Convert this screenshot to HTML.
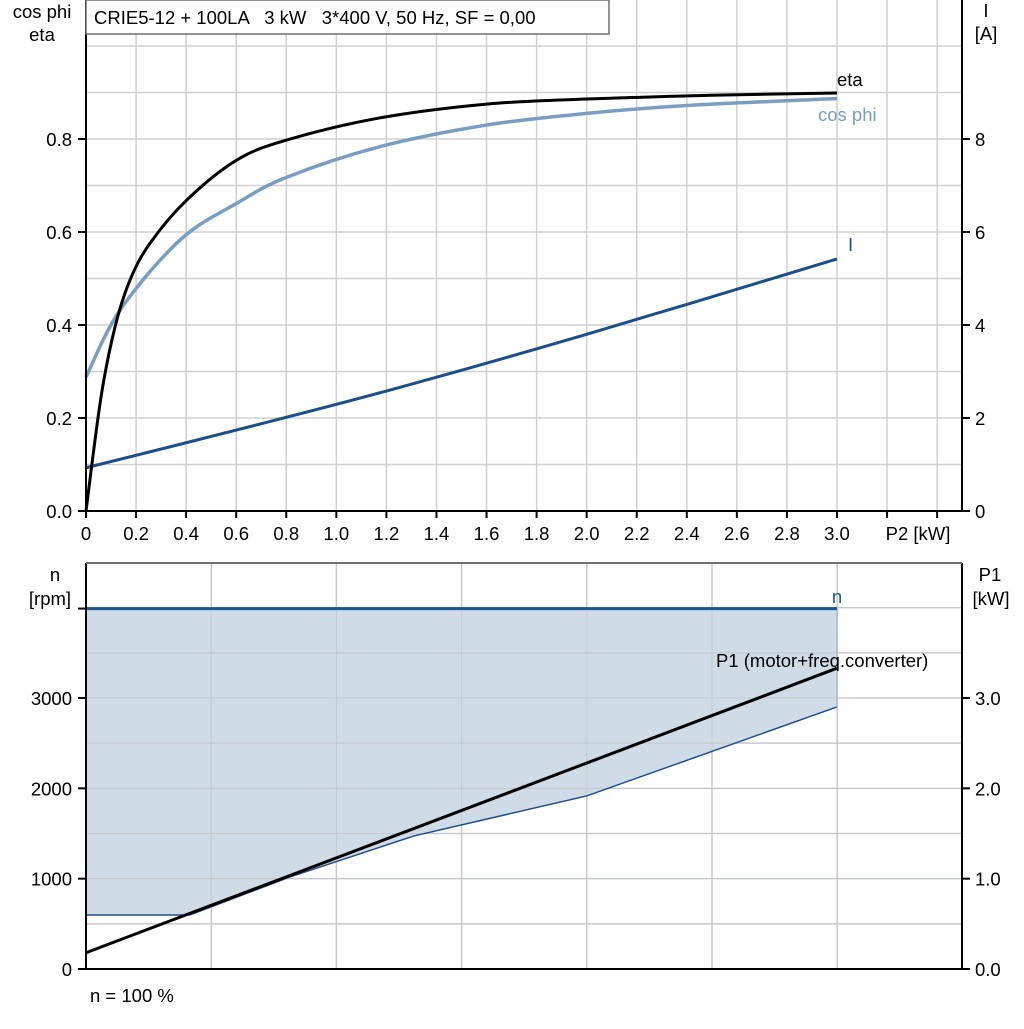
<!DOCTYPE html>
<html><head><meta charset="utf-8"><style>
body{margin:0;background:#fff}
</style></head><body>
<svg id="c" width="1024" height="1024" xmlns="http://www.w3.org/2000/svg"></svg>
<script>
const p2Ticks=[0,0.2,0.4,0.6,0.8,1.0,1.2,1.4,1.6,1.8,2.0,2.2,2.4,2.6,2.8,3.0];
const leftTicks=[0,0.2,0.4,0.6,0.8];
const rightTicks=[0,2,4,6,8];
const etaX=[0,0.06,0.116,0.176,0.256,0.403,0.603,0.803,1.17,1.6,2.0,2.5,3.0];
const etaY=[0,0.245,0.396,0.497,0.576,0.669,0.755,0.798,0.845,0.875,0.886,0.894,0.899];
const cosX=[0,0.136,0.376,0.603,0.803,1.17,1.6,2.0,2.4,3.0];
const cosY=[0.288,0.432,0.583,0.662,0.718,0.783,0.83,0.855,0.872,0.887];
const iX=[0,0.6,1.2,2.0,3.0];
const iY=[0.93,1.74,2.58,3.8,5.42];
const nTicks=[0,1000,2000,3000];
const p1Ticks=[0,1.0,2.0,3.0];
const nSpeed=3990;
const minX=[0,0.415,0.815,1.31,2.0,3.0];
const minN=[598,598,1019,1473,1916,2901];
const p1X=[0,3.0];
const p1Y=[0.18,3.33];

const svg=document.getElementById('c');const NS='http://www.w3.org/2000/svg';
function el(t,a,txt){const e=document.createElementNS(NS,t);for(const k in a)e.setAttribute(k,a[k]);if(txt!==undefined)e.textContent=txt;svg.appendChild(e);return e;}
const X=v=>86+v*250.33;
const Y1=v=>511-v*465;
const YA=v=>511-v*46.5;
const Yn=v=>969-v*0.09033;
const Yp=v=>969-v*90.33;

for(let i=1;i<=17;i++){let e=el('line',{x1:X(i*0.2),x2:X(i*0.2),y1:0,y2:511,stroke:'#d0d0d0','stroke-width':1.5});
}
for(let i=1;i<=10;i++){let e=el('line',{x1:86,x2:962,y1:Y1(i*0.1),y2:Y1(i*0.1),stroke:'#d0d0d0','stroke-width':1.5});
}
for(let i=1;i<=6;i++){let e=el('line',{x1:86+i*125.2,x2:86+i*125.2,y1:563,y2:969,stroke:'#d0d0d0','stroke-width':1.5});
}
for(let i=1;i<=8;i++){let e=el('line',{x1:86,x2:962,y1:Yn(i*500),y2:Yn(i*500),stroke:'#d0d0d0','stroke-width':1.5});
}

function smooth(xs,ys,fx,fy){const p=xs.map((x,i)=>[fx(x),fy(ys[i])]);let d='M'+p[0][0]+','+p[0][1];
for(let i=0;i<p.length-1;i++){const p0=p[i-1]||p[i],p1=p[i],p2=p[i+1],p3=p[i+2]||p2;
const c1=[p1[0]+(p2[0]-p0[0])/6,p1[1]+(p2[1]-p0[1])/6],c2=[p2[0]-(p3[0]-p1[0])/6,p2[1]-(p3[1]-p1[1])/6];
d+=' C'+c1+' '+c2+' '+p2;}return d;}
function line(xs,ys,fx,fy,color,w,name,sm){let e;
if(sm){e=el('path',{d:smooth(xs,ys,fx,fy),fill:'none',stroke:color,'stroke-width':w});}
else{const pts=xs.map((x,i)=>fx(x)+','+fy(ys[i])).join(' ');e=el('polyline',{points:pts,fill:'none',stroke:color,'stroke-width':w,'stroke-linejoin':'round'});}
return e;}

let areaPts=minX.map((x,i)=>X(x)+','+Yn(minN[i]));
areaPts=[X(0)+','+Yn(nSpeed)].concat(areaPts).concat([X(3)+','+Yn(nSpeed)]);
let ar=el('polygon',{points:areaPts.join(' '),fill:'#cfdbe7',stroke:'none'});

for(let i=1;i<=6;i++){let e=el('line',{x1:86+i*125.2,x2:86+i*125.2,y1:563,y2:969,stroke:'#c4c8cc','stroke-width':1});
}
for(let i=1;i<=8;i++){let e=el('line',{x1:86,x2:962,y1:Yn(i*500),y2:Yn(i*500),stroke:'#c4c8cc','stroke-width':1});
}
line(minX,minN,X,Yn,'#1f4e8c',1.5,'min-speed-line',false);
let vr=el('line',{x1:X(3),x2:X(3),y1:Yn(nSpeed),y2:Yn(minN[minN.length-1]),stroke:'#a9bdd2','stroke-width':1.5});

let nl=el('line',{x1:X(0),x2:X(3),y1:Yn(nSpeed),y2:Yn(nSpeed),stroke:'#1b5590','stroke-width':3});

line(p1X,p1Y,X,Yp,'#000',3,'p1-line',false);

line(iX,iY,X,YA,'#1a4f8a',3,'i-curve',true);
line(cosX,cosY,X,Y1,'#7a9ec2',3.5,'cos-phi-curve',true);
line(etaX,etaY,X,Y1,'#000',3,'eta-curve',true);

function ax(a,name){const e=el('line',Object.assign({stroke:'#000','stroke-width':2},a));}
ax({x1:86,x2:86,y1:0,y2:512},'left-axis');ax({x1:962,x2:962,y1:0,y2:512},'right-axis');ax({x1:85,x2:963,y1:511,y2:511},'x-axis');
ax({x1:86,x2:86,y1:563,y2:970},'left-axis-bottom');ax({x1:962,x2:962,y1:563,y2:970},'right-axis-bottom');ax({x1:85,x2:963,y1:969,y2:969},'x-axis-bottom');
let tb=el('line',{x1:86,x2:962,y1:563,y2:563,stroke:'#707070','stroke-width':2});

function txt(x,y,s,anchor,name,color){const e=el('text',{x:x,y:y,'text-anchor':anchor||'start','font-family':'Liberation Sans, sans-serif','font-size':'18.5',fill:color||'#000'},s);return e;}
for(let i=0;i<=17;i++){ax({x1:X(i*0.2),x2:X(i*0.2),y1:511,y2:518},'x-tick');}
p2Ticks.forEach(v=>txt(X(v),540,v===0?'0':v.toFixed(1),'middle','x-tick-label'));
txt(918,540,'P2 [kW]','middle','x-axis-title');
leftTicks.forEach(v=>{ax({x1:78,x2:86,y1:Y1(v),y2:Y1(v)},'y-tick');txt(72,Y1(v)+7,v.toFixed(1),'end','y-tick-label');});
rightTicks.forEach(v=>{ax({x1:962,x2:970,y1:YA(v),y2:YA(v)},'y2-tick');txt(975,YA(v)+7,String(v),'start','y2-tick-label');});
txt(42,18,'cos phi','middle','y-axis-title');txt(42,41,'eta','middle','y-axis-title-eta');
txt(986,17,'I','middle','y2-axis-title');txt(986,40,'[A]','middle','y2-axis-unit');
txt(837,86,'eta','start','eta-label');
txt(818,121,'cos phi','start','cos-phi-label','#7a9ec2');
txt(848,251,'I','start','i-label','#1a4f8a');

nTicks.forEach(v=>{ax({x1:78,x2:86,y1:Yn(v),y2:Yn(v)},'n-tick');txt(72,Yn(v)+7,String(v),'end','n-tick-label');});
ax({x1:78,x2:86,y1:Yn(nSpeed),y2:Yn(nSpeed)},'n-tick');
p1Ticks.forEach(v=>{ax({x1:962,x2:970,y1:Yp(v),y2:Yp(v)},'p1-tick');txt(975,Yp(v)+7,v.toFixed(1),'start','p1-tick-label');});
txt(55,581,'n','middle','n-axis-title');txt(50,605,'[rpm]','middle','n-axis-unit');
txt(990,581,'P1','middle','p1-axis-title');txt(991,605,'[kW]','middle','p1-axis-unit');
txt(837,603,'n','middle','n-label','#1b5590');
txt(716,667,'P1 (motor+freq.converter)','start','p1-label');
txt(90,1002,'n = 100 %','start','speed-note');

let r=el('rect',{x:86,y:0,width:523,height:34,fill:'#fff',stroke:'#707070','stroke-width':1.5});

let t=txt(94,24,'CRIE5-12 + 100LA   3 kW   3*400 V, 50 Hz, SF = 0,00','start','chart-title');
t.style.whiteSpace='pre';
</script>
</body></html>
